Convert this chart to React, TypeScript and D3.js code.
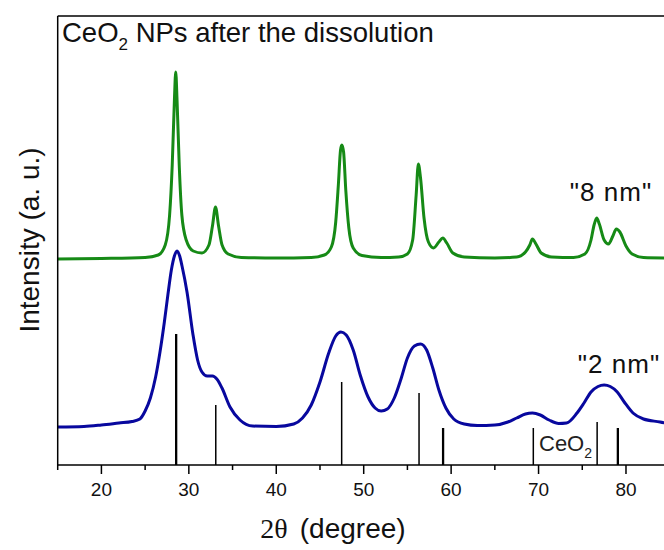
import React from 'react';
import * as d3 from 'd3';

// CeO2 XRD patterns after dissolution: 8 nm and 2 nm particles, with reference CeO2 reflections.
const angles8nm = [15, 20, 25, 26.5, 27.3, 27.8, 28.1, 28.35, 28.5, 28.65, 28.9, 29.2, 29.7, 30.5, 31.5, 32.3, 32.7, 33.05, 33.4, 33.8, 34.5, 36, 40, 44, 45.5, 46.3, 46.8, 47.1, 47.35, 47.5, 47.7, 47.95, 48.3, 48.8, 49.8, 52, 54, 55, 55.6, 56.0, 56.25, 56.5, 56.9, 57.4, 58.0, 58.6, 59.05, 59.5, 60.2, 61.5, 65, 67.5, 68.5, 69.0, 69.3, 69.7, 70.3, 71.5, 74, 75.3, 76.0, 76.35, 76.65, 76.95, 77.5, 78.0, 78.5, 78.9, 79.3, 80.0, 80.7, 82, 85];
const counts8nm = [2060, 2065, 2075, 2100, 2200, 2500, 3000, 3650, 3930, 3650, 3000, 2500, 2250, 2140, 2120, 2200, 2390, 2580, 2390, 2200, 2110, 2075, 2070, 2075, 2100, 2180, 2430, 2800, 3150, 3200, 3130, 2750, 2370, 2170, 2095, 2075, 2080, 2110, 2250, 2700, 3010, 2870, 2470, 2230, 2170, 2230, 2270, 2220, 2120, 2080, 2070, 2080, 2130, 2200, 2260, 2210, 2120, 2080, 2075, 2110, 2250, 2400, 2470, 2410, 2250, 2210, 2290, 2360, 2330, 2190, 2110, 2075, 2070];

const angles2nm = [15, 18, 20, 22, 23.5, 24.4, 25.0, 25.6, 26.2, 26.7, 27.2, 27.6, 28.0, 28.35, 28.65, 28.95, 29.22, 29.79, 30.48, 31.0, 31.5, 32.1, 32.7, 33.2, 33.79, 34.71, 35.85, 37.3, 40, 42, 43, 44, 45, 46, 46.8, 47.4, 48.0, 48.8, 49.6, 50.5, 51.3, 52.0, 52.7, 53.5, 54.3, 55.0, 55.8, 56.5, 57.2, 57.9, 58.6, 59.4, 60.3, 61.5, 63, 65, 66.5, 67.5, 68.5, 69.3, 70.2, 71.2, 72.3, 73.2, 74.4, 75.2, 76.0, 76.8, 77.5, 78.2, 79.0, 79.8, 80.8, 82, 83.9, 85];
const counts2nm = [380, 385, 400, 420, 435, 460, 540, 670, 880, 1130, 1430, 1700, 1950, 2090, 2140, 2090, 1990, 1730, 1300, 1050, 930, 890, 890, 860, 770, 580, 450, 390, 385, 410, 470, 600, 830, 1120, 1290, 1330, 1300, 1150, 900, 680, 570, 540, 560, 670, 870, 1070, 1190, 1210, 1150, 970, 750, 570, 460, 410, 395, 400, 430, 470, 510, 520, 500, 450, 415, 420, 520, 620, 730, 785, 800, 785, 730, 630, 520, 460, 430, 410];

// Reference CeO2 reflections (2θ, relative height)
const refAngles = [28.55, 33.08, 47.48, 56.33, 59.08, 69.4, 76.7, 79.07];
const refHeights = [1310, 600, 830, 720, 370, 370, 430, 370];
const refStrong = [true, false, false, false, true, false, false, true];

const majorTicks = [20, 30, 40, 50, 60, 70, 80];
const minorTicks = [15, 25, 35, 45, 55, 65, 75, 85];

const W = 664;
const H = 550;
const margin = { left: 57.7, top: 16, bottom: 465, right: 669.7 };

const GREEN = '#168a16';
const BLUE = '#08089e';
const SANS = 'Arial, "Liberation Sans", Helvetica, sans-serif';

export default function App() {
  const x = d3.scaleLinear().domain([15, 85]).range([margin.left, margin.right]);
  const y = d3.scaleLinear().domain([0, 4490]).range([margin.bottom, margin.top]);

  const line = d3
    .line<[number, number]>()
    .x((d) => x(d[0]))
    .y((d) => y(d[1]))
    .curve(d3.curveMonotoneX);

  const pts8 = angles8nm.map((a, i) => [a, counts8nm[i]] as [number, number]);
  const pts2 = angles2nm.map((a, i) => [a, counts2nm[i]] as [number, number]);

  return (
    <svg
      width={W}
      height={H}
      viewBox={`0 0 ${W} ${H}`}
      style={{ position: 'absolute', left: 0, top: 0, background: '#fff' }}
    >
      <defs>
        <clipPath id="plotArea">
          <rect x={margin.left} y={margin.top} width={W - margin.left} height={margin.bottom - margin.top} />
        </clipPath>
      </defs>

      {/* reference sticks */}
      <g>
        {refAngles.map((a, i) => (
          <line
            key={a}
            x1={x(a)}
            x2={x(a)}
            y1={y(0)}
            y2={y(refHeights[i])}
            stroke="#000"
            strokeWidth={refStrong[i] ? 2.3 : 1.5}
          />
        ))}
      </g>

      {/* patterns */}
      <g clipPath="url(#plotArea)">
        <path d={line(pts2) || ''} fill="none" stroke={BLUE} strokeWidth={3} strokeLinejoin="round" />
        <path d={line(pts8) || ''} fill="none" stroke={GREEN} strokeWidth={3} strokeLinejoin="round" />
      </g>

      {/* frame */}
      <line x1={margin.left} x2={W} y1={margin.top} y2={margin.top} stroke="#000" strokeWidth={1.5} />
      <line x1={margin.left} x2={margin.left} y1={margin.top} y2={margin.bottom} stroke="#000" strokeWidth={1.5} />
      <line x1={margin.left} x2={W} y1={margin.bottom} y2={margin.bottom} stroke="#000" strokeWidth={1.5} />

      {/* x ticks */}
      {majorTicks.map((t) => (
        <g key={`M${t}`}>
          <line x1={x(t)} x2={x(t)} y1={margin.bottom} y2={margin.bottom + 9} stroke="#000" strokeWidth={1.5} />
          <text x={x(t)} y={margin.bottom + 31} textAnchor="middle" fontFamily={SANS} fontSize={19} fill="#111">
            {t}
          </text>
        </g>
      ))}
      {minorTicks.map((t) => (
        <line key={`m${t}`} x1={x(t)} x2={x(t)} y1={margin.bottom} y2={margin.bottom + 5} stroke="#000" strokeWidth={1.5} />
      ))}

      {/* axis titles */}
      <text x={333} y={538} textAnchor="middle" fontSize={28} fill="#111">
        <tspan fontFamily='"Times New Roman", "Liberation Serif", serif'>2θ</tspan>
        <tspan fontFamily={SANS} dx={12}>(degree)</tspan>
      </text>
      <text
        transform={`translate(39, 240) rotate(-90)`}
        textAnchor="middle"
        fontFamily={SANS}
        fontSize={28}
        fill="#111"
      >
        Intensity (a. u.)
      </text>

      {/* annotations */}
      <text x={62} y={42} fontFamily={SANS} fontSize={27.5} fill="#111">
        CeO<tspan fontSize={17} dy={8}>2</tspan>
        <tspan dy={-8}> NPs after the dissolution</tspan>
      </text>
      <text x={611} y={201} textAnchor="middle" fontFamily={SANS} fontSize={26} letterSpacing={1} fill="#111">
        "8 nm"
      </text>
      <text x={619} y={373} textAnchor="middle" fontFamily={SANS} fontSize={26} letterSpacing={1} fill="#111">
        "2 nm"
      </text>
      <text x={539} y={451} fontFamily={SANS} fontSize={22} fill="#222">
        CeO<tspan fontSize={14} dy={7}>2</tspan>
      </text>
    </svg>
  );
}
